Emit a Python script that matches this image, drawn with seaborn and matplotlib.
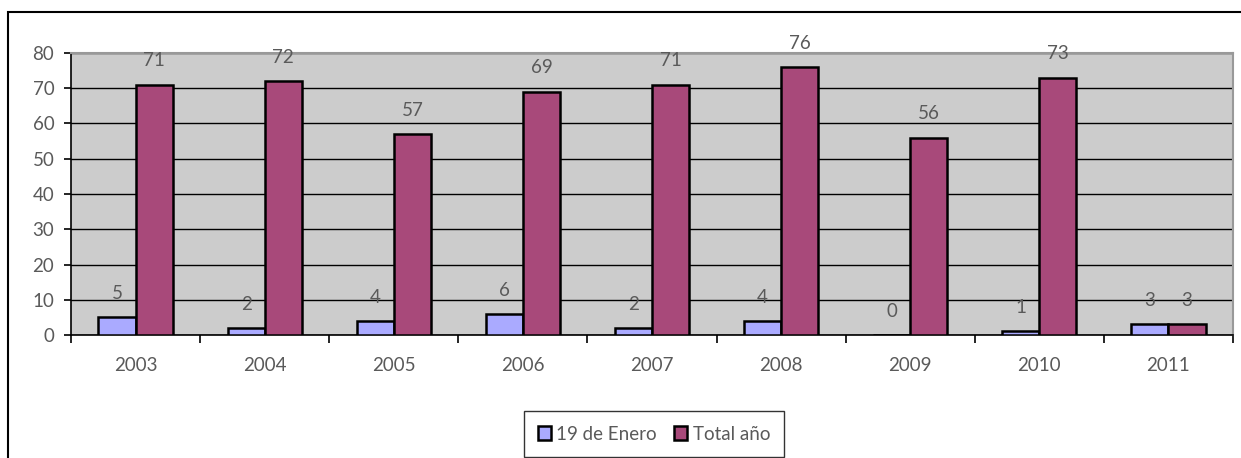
import matplotlib
matplotlib.use("Agg")
import matplotlib.pyplot as plt
import seaborn as sns
import pandas as pd
from matplotlib.patches import Rectangle

years = ["2003", "2004", "2005", "2006", "2007", "2008", "2009", "2010", "2011"]
enero = [5, 2, 4, 6, 2, 4, 0, 1, 3]
total = [71, 72, 57, 69, 71, 76, 56, 73, 3]
series = ["19 de Enero", "Total año"]
colors = ["#AAAAFF", "#A8497A"]

df = pd.DataFrame({
    "year": years * 2,
    "value": enero + total,
    "serie": [series[0]] * len(years) + [series[1]] * len(years),
})

sns.set_style("white")
plt.rcParams["font.family"] = ["Lato", "DejaVu Sans"]
txt = "#5A5A5A"
fs = 13.5

fig = plt.figure(figsize=(12.41, 4.58), dpi=100)
W, H = 1241, 458
ax = fig.add_axes([71 / W, 1 - 335 / H, (1233 - 71) / W, (335 - 53) / H])

sns.barplot(data=df, x="year", y="value", hue="serie", palette=colors,
            width=0.575, edgecolor="black", linewidth=1.8, ax=ax, zorder=3,
            saturation=1)

ax.set_facecolor("#CCCCCC")
ax.set_ylim(0, 80)
ax.set_xlim(-0.5, len(years) - 0.5)
ax.set_yticks(range(0, 81, 10))
ax.yaxis.grid(True, color="black", linewidth=1.0)
ax.set_axisbelow(True)
ax.set_xlabel("")
ax.set_ylabel("")

for c in ax.containers:
    ax.bar_label(c, padding=11, color=txt, fontsize=fs)

ax.set_xticks(range(len(years)))
ax.set_xticklabels(years)
ax.set_xticks([i + 0.5 for i in range(-1, len(years))], minor=True)
ax.tick_params(axis="x", which="major", length=0, pad=16, labelsize=fs, labelcolor=txt)
ax.tick_params(axis="x", which="minor", length=6, width=1.2, color="black", direction="out", bottom=True)
ax.tick_params(axis="y", length=5, width=1.2, color="black", direction="out", left=True,
               labelsize=fs, labelcolor=txt, pad=7)

for s in ["left", "bottom"]:
    ax.spines[s].set_color("black")
    ax.spines[s].set_linewidth(1.2)
for s in ["top", "right"]:
    ax.spines[s].set_color("#999999")
    ax.spines[s].set_linewidth(1.5)

handles, labels = ax.get_legend_handles_labels()
ax.legend(handles, labels, loc="center", bbox_to_anchor=(654 / W, 1 - 434 / H),
          bbox_transform=fig.transFigure, ncol=2, frameon=True, fancybox=False,
          edgecolor="black", prop={"size": fs}, labelcolor=txt,
          handlelength=0.7, handleheight=0.7, handletextpad=0.3, columnspacing=0.9,
          borderpad=0.75)
leg = ax.get_legend()
leg.get_frame().set_linewidth(1.0)

fig.patches.append(Rectangle((8 / W, -0.1), 1.2, (1 - 12 / H) + 0.1,
                             transform=fig.transFigure, fill=False,
                             edgecolor="black", linewidth=1.5, zorder=0))

fig.savefig("out.png", dpi=100, facecolor="white")
